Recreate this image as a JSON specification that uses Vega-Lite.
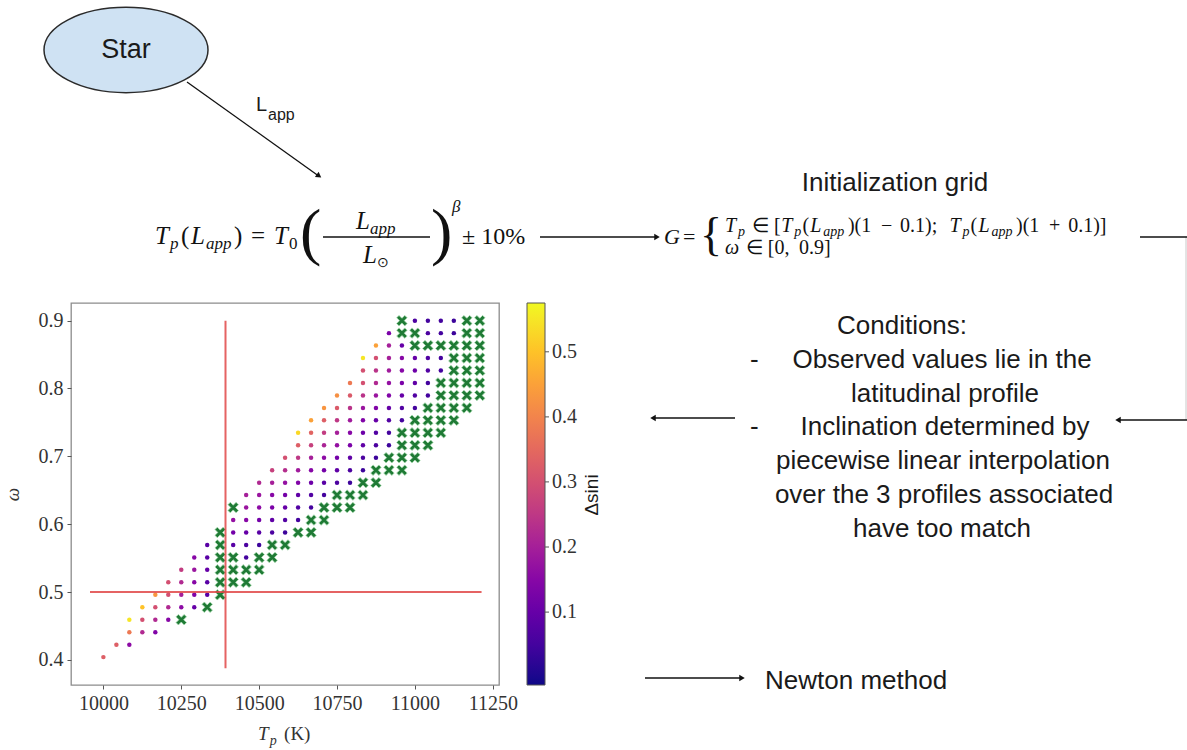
{
"$schema": "https://vega.github.io/schema/vega-lite/v6.json",
"padding": 0,
"background": "white",
"bounds": "flush",
"spacing": 0,
"resolve": {"scale": {"color": "independent"}, "legend": {"color": "independent"}},
"config": {"view": {"stroke": null}, "font": "Liberation Sans", "concat": {"spacing": 0}},
"datasets": {
"dots": [
{"t":11000,"w":0.9,"v":0.06},{"t":11041.7,"w":0.9,"v":0.05},{"t":11083.3,"w":0.9,"v":0.05},{"t":11125,"w":0.9,"v":0.04},
{"t":10916.7,"w":0.8816,"v":0.13},{"t":11041.7,"w":0.8816,"v":0.06},{"t":11083.3,"w":0.8816,"v":0.05},{"t":11125,"w":0.8816,"v":0.04},
{"t":10875,"w":0.8633,"v":0.45},{"t":10916.7,"w":0.8633,"v":0.2},{"t":10958.3,"w":0.8633,"v":0.1},
{"t":10833.3,"w":0.8449,"v":0.55},{"t":10875,"w":0.8449,"v":0.3},{"t":10916.7,"w":0.8449,"v":0.2},{"t":10958.3,"w":0.8449,"v":0.15},{"t":11000,"w":0.8449,"v":0.1},{"t":11041.7,"w":0.8449,"v":0.07},{"t":11083.3,"w":0.8449,"v":0.05},
{"t":10833.3,"w":0.8265,"v":0.3},{"t":10875,"w":0.8265,"v":0.24},{"t":10916.7,"w":0.8265,"v":0.19},{"t":10958.3,"w":0.8265,"v":0.15},{"t":11000,"w":0.8265,"v":0.11},{"t":11041.7,"w":0.8265,"v":0.07},{"t":11083.3,"w":0.8265,"v":0.05},
{"t":10791.7,"w":0.8082,"v":0.38},{"t":10833.3,"w":0.8082,"v":0.3},{"t":10875,"w":0.8082,"v":0.22},{"t":10916.7,"w":0.8082,"v":0.17},{"t":10958.3,"w":0.8082,"v":0.13},{"t":11000,"w":0.8082,"v":0.09},{"t":11041.7,"w":0.8082,"v":0.05},
{"t":10750,"w":0.7898,"v":0.42},{"t":10791.7,"w":0.7898,"v":0.32},{"t":10833.3,"w":0.7898,"v":0.24},{"t":10875,"w":0.7898,"v":0.18},{"t":10916.7,"w":0.7898,"v":0.14},{"t":10958.3,"w":0.7898,"v":0.1},{"t":11000,"w":0.7898,"v":0.07},{"t":11041.7,"w":0.7898,"v":0.05},
{"t":10708.3,"w":0.7714,"v":0.43},{"t":10750,"w":0.7714,"v":0.32},{"t":10791.7,"w":0.7714,"v":0.24},{"t":10833.3,"w":0.7714,"v":0.18},{"t":10875,"w":0.7714,"v":0.14},{"t":10916.7,"w":0.7714,"v":0.1},{"t":10958.3,"w":0.7714,"v":0.07},{"t":11000,"w":0.7714,"v":0.05},
{"t":10666.7,"w":0.7531,"v":0.45},{"t":10708.3,"w":0.7531,"v":0.33},{"t":10750,"w":0.7531,"v":0.25},{"t":10791.7,"w":0.7531,"v":0.19},{"t":10833.3,"w":0.7531,"v":0.14},{"t":10875,"w":0.7531,"v":0.1},{"t":10916.7,"w":0.7531,"v":0.07},{"t":10958.3,"w":0.7531,"v":0.05},
{"t":10625,"w":0.7347,"v":0.53},{"t":10666.7,"w":0.7347,"v":0.34},{"t":10708.3,"w":0.7347,"v":0.26},{"t":10750,"w":0.7347,"v":0.2},{"t":10791.7,"w":0.7347,"v":0.15},{"t":10833.3,"w":0.7347,"v":0.11},{"t":10875,"w":0.7347,"v":0.07},{"t":10916.7,"w":0.7347,"v":0.05},
{"t":10625,"w":0.7163,"v":0.33},{"t":10666.7,"w":0.7163,"v":0.27},{"t":10708.3,"w":0.7163,"v":0.21},{"t":10750,"w":0.7163,"v":0.17},{"t":10791.7,"w":0.7163,"v":0.13},{"t":10833.3,"w":0.7163,"v":0.09},{"t":10875,"w":0.7163,"v":0.06},{"t":10916.7,"w":0.7163,"v":0.04},
{"t":10583.3,"w":0.698,"v":0.3},{"t":10625,"w":0.698,"v":0.25},{"t":10666.7,"w":0.698,"v":0.2},{"t":10708.3,"w":0.698,"v":0.16},{"t":10750,"w":0.698,"v":0.12},{"t":10791.7,"w":0.698,"v":0.09},{"t":10833.3,"w":0.698,"v":0.06},{"t":10875,"w":0.698,"v":0.04},
{"t":10541.7,"w":0.6796,"v":0.27},{"t":10583.3,"w":0.6796,"v":0.23},{"t":10625,"w":0.6796,"v":0.19},{"t":10666.7,"w":0.6796,"v":0.15},{"t":10708.3,"w":0.6796,"v":0.12},{"t":10750,"w":0.6796,"v":0.09},{"t":10791.7,"w":0.6796,"v":0.06},{"t":10833.3,"w":0.6796,"v":0.04},
{"t":10500,"w":0.6612,"v":0.22},{"t":10541.7,"w":0.6612,"v":0.2},{"t":10583.3,"w":0.6612,"v":0.17},{"t":10625,"w":0.6612,"v":0.14},{"t":10666.7,"w":0.6612,"v":0.11},{"t":10708.3,"w":0.6612,"v":0.08},{"t":10750,"w":0.6612,"v":0.06},{"t":10791.7,"w":0.6612,"v":0.04},
{"t":10458.3,"w":0.6429,"v":0.2},{"t":10500,"w":0.6429,"v":0.18},{"t":10541.7,"w":0.6429,"v":0.15},{"t":10583.3,"w":0.6429,"v":0.12},{"t":10625,"w":0.6429,"v":0.09},{"t":10666.7,"w":0.6429,"v":0.07},{"t":10708.3,"w":0.6429,"v":0.05},
{"t":10458.3,"w":0.6245,"v":0.18},{"t":10500,"w":0.6245,"v":0.16},{"t":10541.7,"w":0.6245,"v":0.13},{"t":10583.3,"w":0.6245,"v":0.1},{"t":10625,"w":0.6245,"v":0.07},{"t":10666.7,"w":0.6245,"v":0.05},
{"t":10416.7,"w":0.6061,"v":0.17},{"t":10458.3,"w":0.6061,"v":0.15},{"t":10500,"w":0.6061,"v":0.12},{"t":10541.7,"w":0.6061,"v":0.09},{"t":10583.3,"w":0.6061,"v":0.07},{"t":10625,"w":0.6061,"v":0.05},
{"t":10416.7,"w":0.5878,"v":0.12},{"t":10458.3,"w":0.5878,"v":0.1},{"t":10500,"w":0.5878,"v":0.08},{"t":10541.7,"w":0.5878,"v":0.06},{"t":10583.3,"w":0.5878,"v":0.04},
{"t":10333.3,"w":0.5694,"v":0.08},{"t":10416.7,"w":0.5694,"v":0.08},{"t":10458.3,"w":0.5694,"v":0.06},{"t":10500,"w":0.5694,"v":0.04},
{"t":10291.7,"w":0.551,"v":0.15},{"t":10333.3,"w":0.551,"v":0.08},{"t":10458.3,"w":0.551,"v":0.05},
{"t":10250,"w":0.5327,"v":0.26},{"t":10291.7,"w":0.5327,"v":0.18},{"t":10333.3,"w":0.5327,"v":0.1},
{"t":10208.3,"w":0.5143,"v":0.3},{"t":10250,"w":0.5143,"v":0.22},{"t":10291.7,"w":0.5143,"v":0.15},{"t":10333.3,"w":0.5143,"v":0.08},
{"t":10166.7,"w":0.4959,"v":0.43},{"t":10208.3,"w":0.4959,"v":0.3},{"t":10250,"w":0.4959,"v":0.2},{"t":10291.7,"w":0.4959,"v":0.14},{"t":10333.3,"w":0.4959,"v":0.08},
{"t":10125,"w":0.4776,"v":0.5},{"t":10166.7,"w":0.4776,"v":0.3},{"t":10208.3,"w":0.4776,"v":0.22},{"t":10250,"w":0.4776,"v":0.16},{"t":10291.7,"w":0.4776,"v":0.1},
{"t":10083.3,"w":0.4592,"v":0.55},{"t":10125,"w":0.4592,"v":0.3},{"t":10166.7,"w":0.4592,"v":0.22},{"t":10208.3,"w":0.4592,"v":0.15},
{"t":10083.3,"w":0.4408,"v":0.38},{"t":10125,"w":0.4408,"v":0.22},{"t":10166.7,"w":0.4408,"v":0.14},
{"t":10041.7,"w":0.4224,"v":0.33},{"t":10083.3,"w":0.4224,"v":0.16},
{"t":10000,"w":0.4041,"v":0.33}
],
"xs": [
{"t":10958.3,"w":0.9},{"t":11166.7,"w":0.9},{"t":11208.3,"w":0.9},
{"t":10958.3,"w":0.8816},{"t":11000,"w":0.8816},{"t":11166.7,"w":0.8816},{"t":11208.3,"w":0.8816},
{"t":11000,"w":0.8633},{"t":11041.7,"w":0.8633},{"t":11083.3,"w":0.8633},{"t":11125,"w":0.8633},{"t":11166.7,"w":0.8633},{"t":11208.3,"w":0.8633},
{"t":11125,"w":0.8449},{"t":11166.7,"w":0.8449},{"t":11208.3,"w":0.8449},
{"t":11125,"w":0.8265},{"t":11166.7,"w":0.8265},{"t":11208.3,"w":0.8265},
{"t":11083.3,"w":0.8082},{"t":11125,"w":0.8082},{"t":11166.7,"w":0.8082},{"t":11208.3,"w":0.8082},
{"t":11083.3,"w":0.7898},{"t":11125,"w":0.7898},{"t":11166.7,"w":0.7898},{"t":11208.3,"w":0.7898},
{"t":11041.7,"w":0.7714},{"t":11083.3,"w":0.7714},{"t":11125,"w":0.7714},{"t":11166.7,"w":0.7714},
{"t":11000,"w":0.7531},{"t":11041.7,"w":0.7531},{"t":11083.3,"w":0.7531},{"t":11125,"w":0.7531},
{"t":10958.3,"w":0.7347},{"t":11000,"w":0.7347},{"t":11041.7,"w":0.7347},{"t":11083.3,"w":0.7347},
{"t":10958.3,"w":0.7163},{"t":11000,"w":0.7163},{"t":11041.7,"w":0.7163},
{"t":10916.7,"w":0.698},{"t":10958.3,"w":0.698},{"t":11000,"w":0.698},
{"t":10875,"w":0.6796},{"t":10916.7,"w":0.6796},{"t":10958.3,"w":0.6796},
{"t":10833.3,"w":0.6612},{"t":10875,"w":0.6612},
{"t":10750,"w":0.6429},{"t":10791.7,"w":0.6429},{"t":10833.3,"w":0.6429},
{"t":10416.7,"w":0.6245},{"t":10708.3,"w":0.6245},{"t":10750,"w":0.6245},{"t":10791.7,"w":0.6245},
{"t":10666.7,"w":0.6061},{"t":10708.3,"w":0.6061},
{"t":10375,"w":0.5878},{"t":10625,"w":0.5878},{"t":10666.7,"w":0.5878},
{"t":10375,"w":0.5694},{"t":10541.7,"w":0.5694},{"t":10583.3,"w":0.5694},
{"t":10375,"w":0.551},{"t":10416.7,"w":0.551},{"t":10500,"w":0.551},{"t":10541.7,"w":0.551},
{"t":10375,"w":0.5327},{"t":10416.7,"w":0.5327},{"t":10458.3,"w":0.5327},{"t":10500,"w":0.5327},
{"t":10375,"w":0.5143},{"t":10416.7,"w":0.5143},{"t":10458.3,"w":0.5143},
{"t":10375,"w":0.4959},
{"t":10333.3,"w":0.4776},
{"t":10250,"w":0.4592}
],
"redlines": [
{"t":10392,"w":0.3877,"t2":10392,"w2":0.9},
{"t":9957,"w":0.5,"t2":11214,"w2":0.5}
],
"xtitle_it": [
{"t":10496,"w":0.282,"s":"T","fs":19},
{"t":10534,"w":0.2746,"s":"p","fs":14}
],
"xtitle_rm": [
{"t":10580,"w":0.282,"s":"(K)","fs":19}
],
"top_rect": [{"x":0,"y":0,"x2":1187,"y2":303}],
"top_rules": [
{"x":187,"y":82,"x2":318,"y2":175.5},
{"x":540,"y":237,"x2":655,"y2":237},
{"x":1140,"y":237,"x2":1187,"y2":237},
{"x":323,"y":237,"x2":430,"y2":237}
],
"top_heads": [
{"x":319,"y":176,"a":35.4},
{"x":657,"y":237,"a":0}
],
"top_gray": [{"x":1186,"y":237,"x2":1186,"y2":303}],
"top_ellipse": [{"x":126,"y":50}],
"top_sans_c": [
{"x":126,"y":58,"s":"Star","fs":27},
{"x":895,"y":191,"s":"Initialization grid","fs":26}
],
"top_sans_l": [
{"x":256,"y":111,"s":"L","fs":20},
{"x":268,"y":120,"s":"app","fs":16}
],
"top_serif_it": [
{"x":155,"y":244,"s":"T","fs":25},
{"x":170,"y":249,"s":"p","fs":17},
{"x":191,"y":244,"s":"L","fs":25},
{"x":206,"y":249,"s":"app","fs":17},
{"x":274,"y":244,"s":"T","fs":25},
{"x":356,"y":229,"s":"L","fs":25},
{"x":370,"y":234,"s":"app","fs":17},
{"x":363,"y":263,"s":"L","fs":25},
{"x":452,"y":212,"s":"β","fs":17},
{"x":664,"y":244,"s":"G","fs":22},
{"x":725,"y":232,"s":"T","fs":20},{"x":738,"y":236,"s":"p","fs":14},
{"x":781.3,"y":232,"s":"T","fs":20},{"x":794.3,"y":236,"s":"p","fs":14},
{"x":810.3,"y":232,"s":"L","fs":20},{"x":823.3,"y":236,"s":"app","fs":14},
{"x":949.4,"y":232,"s":"T","fs":20},{"x":962.4,"y":236,"s":"p","fs":14},
{"x":978.4,"y":232,"s":"L","fs":20},{"x":991.4,"y":236,"s":"app","fs":14},
{"x":725,"y":254,"s":"ω","fs":20}
],
"top_serif_rm": [
{"x":181,"y":244,"s":"(","fs":25},
{"x":234,"y":244,"s":")","fs":25},
{"x":251,"y":244,"s":"=","fs":25},
{"x":289,"y":249,"s":"0","fs":17},
{"x":300,"y":253,"s":"(","fs":64},
{"x":377,"y":267,"s":"⊙","fs":14},
{"x":431,"y":253,"s":")","fs":64},
{"x":462,"y":244,"s":"± 10%","fs":24},
{"x":683,"y":244,"s":"=","fs":22},
{"x":700,"y":250,"s":"{","fs":46},
{"x":752,"y":232,"s":"∈ [","fs":20},
{"x":802.5,"y":232,"s":"(","fs":20},
{"x":847.9,"y":232,"s":")(1","fs":20},
{"x":881,"y":232,"s":"−","fs":20},
{"x":900,"y":232,"s":"0.1);","fs":20},
{"x":970.6,"y":232,"s":"(","fs":20},
{"x":1016,"y":232,"s":")(1","fs":20},
{"x":1049,"y":232,"s":"+","fs":20},
{"x":1068.2,"y":232,"s":"0.1)]","fs":20},
{"x":746.4,"y":254,"s":"∈","fs":20},
{"x":767.8,"y":254,"s":"[0,","fs":20},
{"x":799,"y":254,"s":"0.9]","fs":20}
],
"r_rect": [{"x":615,"y":303,"x2":1187,"y2":750}],
"r_rules": [
{"x":735,"y":418,"x2":654,"y2":418},
{"x":1187,"y":420,"x2":1119,"y2":420},
{"x":645,"y":678,"x2":741,"y2":678}
],
"r_ticks": [
{"x":545,"y":612.1,"x2":549,"y2":612.1},
{"x":545,"y":547,"x2":549,"y2":547},
{"x":545,"y":481.9,"x2":549,"y2":481.9},
{"x":545,"y":416.9,"x2":549,"y2":416.9},
{"x":545,"y":351.8,"x2":549,"y2":351.8}
],
"r_heads": [
{"x":653,"y":418,"a":180},
{"x":1118,"y":420,"a":180},
{"x":742,"y":678,"a":0}
],
"r_gray": [{"x":1186,"y":303,"x2":1186,"y2":420}],
"r_sans_c": [
{"x":902,"y":334,"s":"Conditions:"},
{"x":942,"y":368,"s":"Observed values lie in the"},
{"x":945,"y":402,"s":"latitudinal profile"},
{"x":945,"y":435,"s":"Inclination determined by"},
{"x":943,"y":469,"s":"piecewise linear interpolation"},
{"x":944,"y":503,"s":"over the 3 profiles associated"},
{"x":942,"y":537,"s":"have too match"}
],
"r_sans_l": [
{"x":750,"y":368,"s":"-"},
{"x":750,"y":435,"s":"-"},
{"x":765,"y":689,"s":"Newton method"}
],
"r_rot": [{"x":592,"y":495,"s":"Δsini"}]
},
"vconcat": [
{
"width": 1187, "height": 303,
"encoding": {
"x": {"field": "x", "type": "quantitative", "scale": {"domain": [0, 1187], "nice": false, "zero": false}, "axis": null},
"y": {"field": "y", "type": "quantitative", "scale": {"domain": [303, 0], "nice": false, "zero": false}, "axis": null}
},
"layer": [
{"data": {"name": "top_rect"}, "mark": {"type": "rect", "fill": "white"}, "encoding": {"x2": {"field": "x2"}, "y2": {"field": "y2"}}},
{"data": {"name": "top_gray"}, "mark": {"type": "rule", "color": "#c8c8c8", "strokeWidth": 1}, "encoding": {"x2": {"field": "x2"}, "y2": {"field": "y2"}}},
{"data": {"name": "top_rules"}, "mark": {"type": "rule", "color": "#111", "strokeWidth": 1.3}, "encoding": {"x2": {"field": "x2"}, "y2": {"field": "y2"}}},
{"data": {"name": "top_heads"}, "mark": {"type": "point", "shape": "triangle-right", "filled": true, "color": "#111", "size": 40, "opacity": 1}, "encoding": {"angle": {"field": "a", "type": "quantitative", "scale": null}}},
{"data": {"name": "top_ellipse"}, "mark": {"type": "point", "shape": "M-1,0C-1,-0.2872,-0.5523,-0.52,0,-0.52C0.5523,-0.52,1,-0.2872,1,0C1,0.2872,0.5523,0.52,0,0.52C-0.5523,0.52,-1,0.2872,-1,0Z", "size": 26896, "fill": "#cfe2f3", "stroke": "#2b2b2b", "strokeWidth": 1.5, "filled": true, "opacity": 1, "fillOpacity": 1}},
{"data": {"name": "top_sans_c"}, "mark": {"type": "text", "align": "center", "baseline": "alphabetic", "font": "Liberation Sans", "color": "#1a1a1a"}, "encoding": {"text": {"field": "s"}, "size": {"field": "fs", "type": "quantitative", "scale": null}}},
{"data": {"name": "top_sans_l"}, "mark": {"type": "text", "align": "left", "baseline": "alphabetic", "font": "Liberation Sans", "color": "#1a1a1a"}, "encoding": {"text": {"field": "s"}, "size": {"field": "fs", "type": "quantitative", "scale": null}}},
{"data": {"name": "top_serif_it"}, "mark": {"type": "text", "align": "left", "baseline": "alphabetic", "font": "Liberation Serif", "fontStyle": "italic", "color": "#111"}, "encoding": {"text": {"field": "s"}, "size": {"field": "fs", "type": "quantitative", "scale": null}}},
{"data": {"name": "top_serif_rm"}, "mark": {"type": "text", "align": "left", "baseline": "alphabetic", "font": "Liberation Serif", "color": "#111"}, "encoding": {"text": {"field": "s"}, "size": {"field": "fs", "type": "quantitative", "scale": null}}}
]
},
{
"bounds": "flush",
"spacing": 0,
"resolve": {"scale": {"color": "independent"}, "legend": {"color": "independent"}},
"hconcat": [
{"width": 71, "height": 382, "data": {"values": [{"a": 0}]}, "mark": {"type": "text", "text": ""}, "encoding": {}},
{
"width": 428, "height": 382,
"view": {"stroke": "#8c8c8c", "strokeWidth": 1.3},
"encoding": {
"x": {"field": "t", "type": "quantitative", "scale": {"domain": [9896, 11270], "nice": false, "zero": false},
 "axis": {"values": [10000, 10250, 10500, 10750, 11000, 11250], "format": "d", "title": null, "grid": false, "domain": false, "tickColor": "#555", "tickSize": 4, "labelFont": "Liberation Serif", "labelFontSize": 20, "labelColor": "#333", "labelPadding": 4}},
"y": {"field": "w", "type": "quantitative", "scale": {"domain": [0.363, 0.926], "nice": false, "zero": false},
 "axis": {"values": [0.4, 0.5, 0.6, 0.7, 0.8, 0.9], "format": ".1f", "title": "ω", "titleFont": "Liberation Serif", "titleFontStyle": "italic", "titleFontWeight": "normal", "titleFontSize": 19, "titleColor": "#333", "titlePadding": 16, "grid": false, "domain": false, "tickColor": "#555", "tickSize": 4, "labelFont": "Liberation Serif", "labelFontSize": 20, "labelColor": "#333", "labelPadding": 4}}
},
"layer": [
{"data": {"name": "dots"}, "mark": {"type": "point", "filled": true, "size": 20, "opacity": 1},
 "encoding": {"color": {"field": "v", "type": "quantitative", "scale": {"scheme": "plasma", "domain": [-0.012, 0.575]},
  "legend": {"title": null, "orient": "right", "offset": 28, "padding": 0, "gradientLength": 382, "gradientThickness": 18, "values": [0.1, 0.2, 0.3, 0.4, 0.5], "format": ".1f", "labelFont": "Liberation Serif", "labelFontSize": 20, "labelColor": "#333", "labelOffset": 7, "gradientStrokeColor": "#555", "gradientStrokeWidth": 1}}}},
{"data": {"name": "xs"}, "mark": {"type": "point", "shape": "M-1,-0.55L-0.55,-1L0,-0.45L0.55,-1L1,-0.55L0.45,0L1,0.55L0.55,1L0,0.45L-0.55,1L-1,0.55L-0.45,0Z", "size": 110, "filled": true, "fill": "#1f7a35", "stroke": "#a8dcb0", "strokeWidth": 0.8, "opacity": 1}},
{"data": {"name": "redlines"}, "mark": {"type": "rule", "color": "#e04848", "strokeWidth": 2, "opacity": 0.85}, "encoding": {"x2": {"field": "t2"}, "y2": {"field": "w2"}}},
{"data": {"name": "xtitle_it"}, "mark": {"type": "text", "align": "left", "baseline": "alphabetic", "font": "Liberation Serif", "fontStyle": "italic", "color": "#333"}, "encoding": {"text": {"field": "s"}, "size": {"field": "fs", "type": "quantitative", "scale": null}}},
{"data": {"name": "xtitle_rm"}, "mark": {"type": "text", "align": "left", "baseline": "alphabetic", "font": "Liberation Serif", "color": "#333"}, "encoding": {"text": {"field": "s"}, "size": {"field": "fs", "type": "quantitative", "scale": null}}}
]
},
{
"width": 688, "height": 447,
"encoding": {
"x": {"field": "x", "type": "quantitative", "scale": {"domain": [499, 1187], "nice": false, "zero": false}, "axis": null},
"y": {"field": "y", "type": "quantitative", "scale": {"domain": [750, 303], "nice": false, "zero": false}, "axis": null}
},
"layer": [
{"data": {"name": "r_rect"}, "mark": {"type": "rect", "fill": "white"}, "encoding": {"x2": {"field": "x2"}, "y2": {"field": "y2"}}},
{"data": {"name": "r_gray"}, "mark": {"type": "rule", "color": "#c8c8c8", "strokeWidth": 1}, "encoding": {"x2": {"field": "x2"}, "y2": {"field": "y2"}}},
{"data": {"name": "r_ticks"}, "mark": {"type": "rule", "color": "#555", "strokeWidth": 1}, "encoding": {"x2": {"field": "x2"}, "y2": {"field": "y2"}}},
{"data": {"name": "r_rules"}, "mark": {"type": "rule", "color": "#111", "strokeWidth": 1.3}, "encoding": {"x2": {"field": "x2"}, "y2": {"field": "y2"}}},
{"data": {"name": "r_heads"}, "mark": {"type": "point", "shape": "triangle-right", "filled": true, "color": "#111", "size": 40, "opacity": 1}, "encoding": {"angle": {"field": "a", "type": "quantitative", "scale": null}}},
{"data": {"name": "r_sans_c"}, "mark": {"type": "text", "align": "center", "baseline": "alphabetic", "font": "Liberation Sans", "fontSize": 26, "color": "#1a1a1a"}, "encoding": {"text": {"field": "s"}}},
{"data": {"name": "r_sans_l"}, "mark": {"type": "text", "align": "left", "baseline": "alphabetic", "font": "Liberation Sans", "fontSize": 26, "color": "#1a1a1a"}, "encoding": {"text": {"field": "s"}}},
{"data": {"name": "r_rot"}, "mark": {"type": "text", "align": "center", "baseline": "middle", "angle": 270, "font": "Liberation Sans", "fontSize": 19, "color": "#1a1a1a"}, "encoding": {"text": {"field": "s"}}}
]
}
]
}
]
}
